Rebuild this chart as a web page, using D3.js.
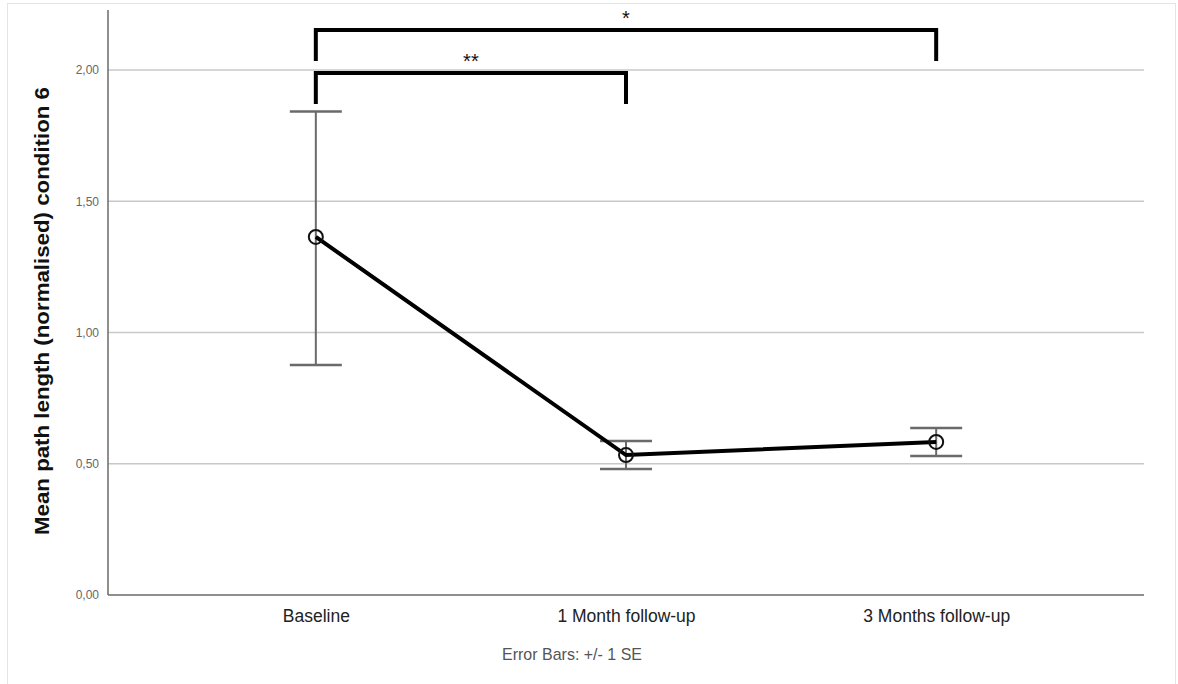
<!DOCTYPE html>
<html>
<head>
<meta charset="utf-8">
<script src="https://cdn.jsdelivr.net/npm/d3@7"></script>
<style>
  body { margin: 0; background: #fff; }
  svg { display: block; font-family: Arial, "Liberation Sans", sans-serif; }
</style>
</head>
<body>
<div id="chart"></div>
<script>
const categories = ['Baseline', '1 Month follow-up', '3 Months follow-up']
const means = [1.364, 0.533, 0.583]
const seLow = [0.876, 0.480, 0.530]
const seHigh = [1.842, 0.587, 0.636]
const yTicks = [0, 0.5, 1.0, 1.5, 2.0]
const brackets = [
  { from: 0, to: 2, label: '*', level: 0 },
  { from: 0, to: 1, label: '**', level: 1 },
]

const totalWidth = 1178
const totalHeight = 684
const plotLeft = 108, plotRight = 1144, plotTop = 10, plotBottom = 595

const svg = d3.select('#chart')
  .append('svg')
  .attr('width', totalWidth)
  .attr('height', totalHeight)

// outer frame
svg.append('rect')
  .attr('x', 7.5).attr('y', 3.5)
  .attr('width', 1168).attr('height', 690)
  .attr('fill', 'none')
  .attr('stroke', '#e4e4e4')

const x = d3.scalePoint()
  .domain(categories)
  .range([plotLeft, plotRight])
  .padding(0.67)

const y = d3.scaleLinear()
  .domain([0, 2.2])
  .range([plotBottom, plotBottom - 2.2 * 262.5])

// grid lines
svg.append('g')
  .selectAll('line')
  .data(yTicks.filter(d => d > 0))
  .join('line')
  .attr('x1', plotLeft).attr('x2', plotRight)
  .attr('y1', d => y(d)).attr('y2', d => y(d))
  .attr('stroke', '#c8c8c8')
  .attr('stroke-width', 1.5)

// y axis
const yAxis = svg.append('g')
  .attr('transform', `translate(${plotLeft},0)`)
  .call(d3.axisLeft(y).tickValues(yTicks).tickSize(0).tickPadding(9)
    .tickFormat(d => d3.format('.2f')(d).replace('.', ',')))
yAxis.select('.domain').attr('stroke', '#6a6a6a').attr('stroke-width', 1.5)
  .attr('d', `M0,${plotTop}V${plotBottom}`)
yAxis.selectAll('.tick text')
  .attr('fill', '#666')
  .style('font-size', '12px')

// x axis
const xAxis = svg.append('g')
  .attr('transform', `translate(0,${plotBottom})`)
  .call(d3.axisBottom(x).tickSize(0).tickPadding(15))
xAxis.select('.domain').attr('stroke', '#6a6a6a').attr('stroke-width', 1.5)
  .attr('d', `M${plotLeft},0H${plotRight}`)
xAxis.selectAll('.tick text')
  .attr('fill', '#222')
  .style('font-size', '17.5px')

// y label
svg.append('text')
  .attr('transform', `translate(49,311) rotate(-90)`)
  .attr('text-anchor', 'middle')
  .style('font-size', '21px')
  .style('font-weight', 'bold')
  .attr('fill', '#111')
  .attr('textLength', 448)
  .attr('lengthAdjust', 'spacingAndGlyphs')
  .text('Mean path length (normalised) condition 6')

// footnote
svg.append('text')
  .attr('x', 572).attr('y', 660)
  .attr('text-anchor', 'middle')
  .style('font-size', '17px')
  .attr('fill', '#555')
  .attr('textLength', 140)
  .attr('lengthAdjust', 'spacingAndGlyphs')
  .text('Error Bars: +/- 1 SE')

// error bars
const errs = svg.append('g')
categories.forEach((c, i) => {
  const cx = x(c)
  errs.append('line')
    .attr('x1', cx).attr('x2', cx)
    .attr('y1', y(seHigh[i])).attr('y2', y(seLow[i]))
    .attr('stroke', '#6a6a6a').attr('stroke-width', 2)
  ;[seHigh[i], seLow[i]].forEach(v => {
    errs.append('line')
      .attr('x1', cx - 26).attr('x2', cx + 26)
      .attr('y1', y(v)).attr('y2', y(v))
      .attr('stroke', '#6a6a6a').attr('stroke-width', 2.5)
  })
})

// mean line
svg.append('path')
  .datum(means)
  .attr('fill', 'none')
  .attr('stroke', '#000')
  .attr('stroke-width', 4)
  .attr('d', d3.line().x((d, i) => x(categories[i])).y(d => y(d)))

svg.append('g')
  .selectAll('circle')
  .data(means)
  .join('circle')
  .attr('cx', (d, i) => x(categories[i]))
  .attr('cy', d => y(d))
  .attr('r', 7)
  .attr('fill', 'none')
  .attr('stroke', '#111')
  .attr('stroke-width', 2)

// significance brackets
const bracketY = [30, 73]
const bracketDrop = 31
brackets.forEach(b => {
  const x1 = x(categories[b.from]), x2 = x(categories[b.to])
  const by = bracketY[b.level]
  svg.append('path')
    .attr('d', `M${x1},${by + bracketDrop}V${by}H${x2}V${by + bracketDrop}`)
    .attr('fill', 'none')
    .attr('stroke', '#000')
    .attr('stroke-width', 4)
  svg.append('text')
    .attr('x', (x1 + x2) / 2)
    .attr('y', by - 5)
    .attr('text-anchor', 'middle')
    .style('font-size', '20px')
    .attr('fill', '#111')
    .text(b.label)
})
</script>
</body>
</html>
